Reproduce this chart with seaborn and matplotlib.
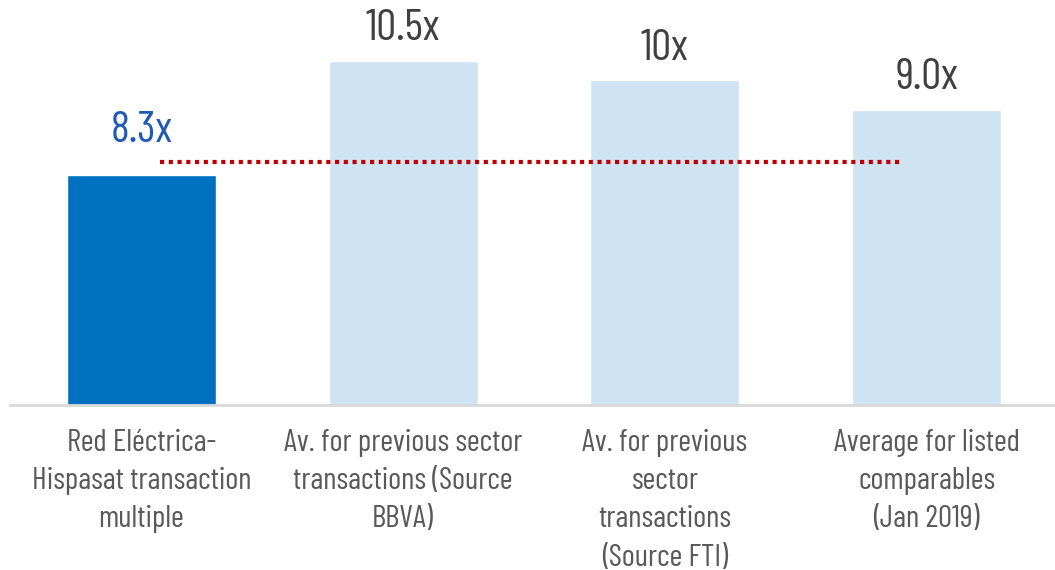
import matplotlib.pyplot as plt
import pandas as pd
import seaborn as sns

categories = [
    "Red Eléctrica-\nHispasat transaction\nmultiple",
    "Av. for previous sector\ntransactions (Source\nBBVA)",
    "Av. for previous\nsector\ntransactions\n(Source FTI)",
    "Average for listed\ncomparables\n(Jan 2019)",
]
bar_heights = [7.0, 10.5, 9.9, 9.0]
value_labels = ["8.3x", "10.5x", "10x", "9.0x"]
ref_level = 7.4

colors = ["#0070C0", "#CFE4F2", "#CFE4F2", "#CFE4F2"]
label_colors = ["#1F5BB5", "#404040", "#404040", "#404040"]

sns.set_style("white")
plt.rcParams["font.family"] = ["Barlow Condensed", "DejaVu Sans"]

df = pd.DataFrame({"cat": categories, "val": bar_heights})

fig = plt.figure(figsize=(10.55, 5.7), dpi=100)
ax = fig.add_axes([10 / 1055, 165 / 570, 1045 / 1055, 405 / 570])
sns.barplot(
    data=df, x="cat", y="val", hue="cat", palette=colors,
    width=0.569, legend=False, ax=ax, saturation=1,
)
ax.set_xlim(-0.502, 3.49)
ax.set_ylim(0, 12.35)

# dotted reference line at the transaction multiple
ax.hlines(ref_level, 0.07, 2.9, color="#C00000", lw=3, linestyles=(0, (1, 1.1)), zorder=5)

for i, (h, lab) in enumerate(zip(bar_heights, value_labels)):
    off = 24 if i == 0 else 15
    ax.annotate(lab, (i, h), xytext=(0, off), textcoords="offset points",
                ha="center", va="baseline", fontsize=32, color=label_colors[i])

sns.despine(ax=ax, left=True, top=True, right=True)
ax.spines["bottom"].set_color("#D9D9D9")
ax.spines["bottom"].set_linewidth(2)
ax.set_yticks([])
ax.set_xlabel("")
ax.set_ylabel("")
ax.tick_params(axis="x", length=0, pad=17, labelsize=22.5, labelcolor="#595959")
for t in ax.get_xticklabels():
    t.set_linespacing(1.47)
    t.set_verticalalignment("top")

fig.savefig("out.png", dpi=100)
